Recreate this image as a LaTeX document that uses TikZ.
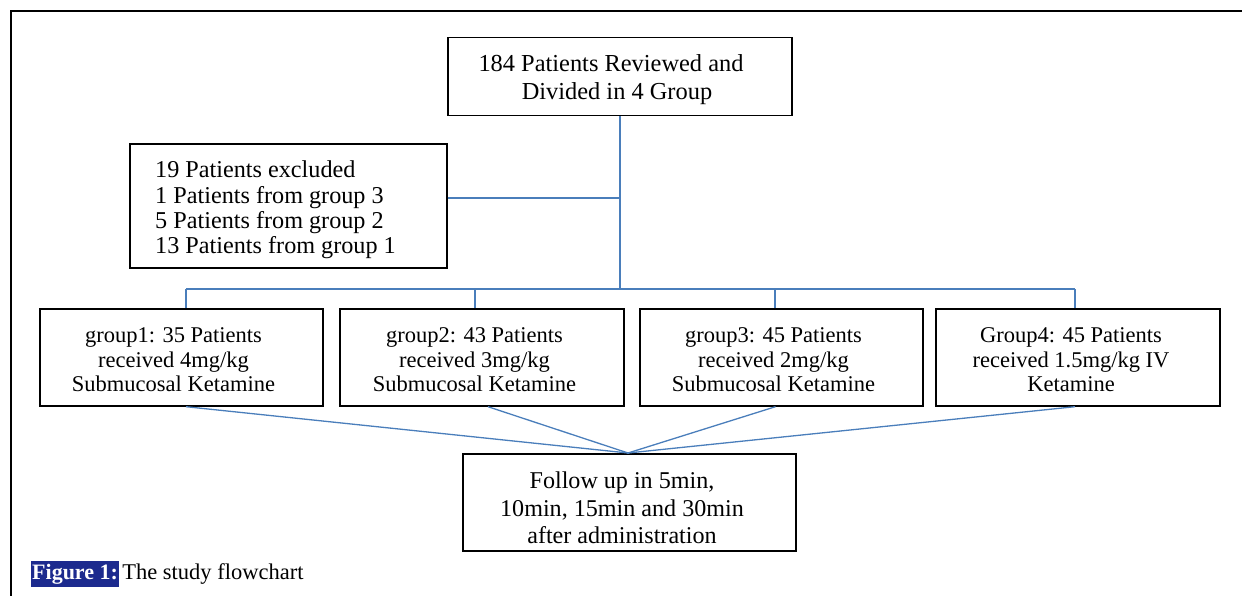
\documentclass[tikz,border=0pt]{standalone}
\usepackage{fontspec}
\setmainfont{Liberation Serif}
\definecolor{connblue}{RGB}{74,126,187}
\definecolor{capblue}{RGB}{28,42,142}
\begin{document}
\begin{tikzpicture}[x=1pt,y=-1pt,
  box/.style={draw=black,line width=1.4pt,inner sep=0pt},
  txt/.style={inner sep=0pt,align=center},
  conn/.style={draw=connblue,line width=1.3pt},
  frame/.style={draw=black,line width=2.3pt}]
\useasboundingbox (0,0) rectangle (1242,596);
\draw[frame] (11.2,596) -- (11.2,11.2) -- (1242,11.2);

% boxes
\node[box,minimum width=344pt,minimum height=78pt] (top) at (620,76.5) {};
\node[box,minimum width=317pt,minimum height=124pt] (excl) at (288.5,206) {};
\node[box,minimum width=283pt,minimum height=97pt] (g1) at (181.5,357.5) {};
\node[box,minimum width=284pt,minimum height=97pt] (g2) at (482,357.5) {};
\node[box,minimum width=283pt,minimum height=97pt] (g3) at (781.5,357.5) {};
\node[box,minimum width=284pt,minimum height=97pt] (g4) at (1078,357.5) {};
\node[box,minimum width=333pt,minimum height=97pt] (fu) at (629.5,502.5) {};

% texts
\node[txt,font=\fontsize{24.4}{28}\selectfont] (topt) at (617,79.5)
  {184 Patients Reviewed and\hspace*{12pt}\\Divided in 4 Group};
\node[txt,align=left,anchor=west,font=\fontsize{24.2}{25.3}\selectfont] (exclt) at (155,210)
  {19 Patients excluded\\1 Patients from group 3\\5 Patients from group 2\\13 Patients from group 1};
\tikzset{gtxt/.style={txt,font=\fontsize{22.5}{24.5}\selectfont}}
\node[gtxt] (g1t) at (173.5,360) {group1: 35 Patients\\received 4mg/kg\\Submucosal Ketamine};
\node[gtxt] (g2t) at (474.5,360) {group2: 43 Patients\\received 3mg/kg\\Submucosal Ketamine};
\node[gtxt] (g3t) at (773.5,360) {group3: 45 Patients\\received 2mg/kg\\Submucosal Ketamine};
\node[gtxt] (g4t) at (1071,360) {Group4: 45 Patients\\received 1.5mg/kg IV\\Ketamine};
\node[txt,font=\fontsize{24.1}{27.5}\selectfont] (fut) at (622,508)
  {Follow up in 5min,\\10min, 15min and 30min\\after administration};

% connectors
\coordinate (bus) at (620,289);
\coordinate (j) at (620,198);
\coordinate (b1) at (186,289);
\coordinate (b2) at (475,289);
\coordinate (b3) at (775,289);
\coordinate (b4) at (1075,289);
\coordinate (m) at (628,453);

\draw[conn] (top.south) -- (bus);
\draw[conn] (excl.east |- j) -- (j);
\draw[conn] (b1) -- (b4);
\draw[conn] (b1) -- (b1 |- g1.north);
\draw[conn] (b2) -- (b2 |- g2.north);
\draw[conn] (b3) -- (b3 |- g3.north);
\draw[conn] (b4) -- (b4 |- g4.north);

\draw[conn] (g1.south -| b1) -- (m);
\draw[conn] ([xshift=6pt]g2.south) -- (m);
\draw[conn] ([xshift=-6pt]g3.south) -- (m);
\draw[conn] (g4.south -| b4) -- (m);
\draw[conn] (m) -- (fu.north -| m);

% caption
\node[fill=capblue,text=white,font=\fontsize{22}{24}\selectfont\bfseries,inner xsep=1pt,inner ysep=1pt,minimum height=26pt,anchor=west] (figlab) at (31,574) {Figure 1:};
\node[font=\fontsize{22.5}{24}\selectfont,inner sep=0pt,anchor=west] (captext) at ([xshift=3pt]figlab.east) {The study flowchart};
\end{tikzpicture}
\end{document}
